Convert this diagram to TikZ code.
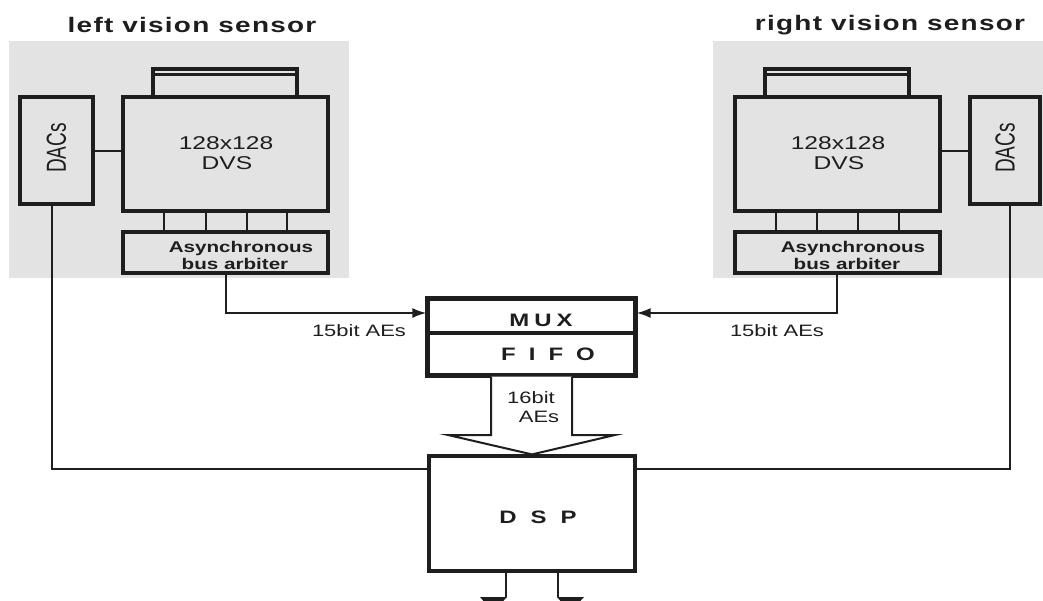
\documentclass[tikz,border=0pt]{standalone}
\usepackage{fontspec}
\usetikzlibrary{arrows.meta}
\newfontfamily\wsans[FakeStretch=1.33]{Liberation Sans}
\newfontfamily\psans{Liberation Sans}
\newfontfamily\tsans[FakeStretch=1.33,LetterSpace=6]{Liberation Sans}
\definecolor{panel}{HTML}{E3E3E3}
\definecolor{ink}{HTML}{1E1E1E}
\tikzset{
  box/.style={draw=ink, line width=3.2pt, inner sep=0pt, fill=#1},
  box/.default=panel,
  conn/.style={draw=ink, line width=2pt},
  tip/.style={-{Latex[length=14pt,width=10pt]}},
  lbl/.style={inner sep=0pt, text=ink},
}
\begin{document}
\begin{tikzpicture}[x=1pt,y=-1pt]
\path[use as bounding box, fill=white] (0,0) rectangle (1043,600);
\clip (0,0) rectangle (1043,600);
% panels
\path[fill=panel] (9,41) rectangle (349,278);
\path[fill=panel] (713,41) rectangle (1043,278);
% titles
\node[lbl, font=\tsans\bfseries\fontsize{21}{24}\selectfont] (titleL) at (192,25) {left vision sensor};
\node[lbl, font=\tsans\bfseries\fontsize{21}{24}\selectfont] (titleR) at (890,25) {right vision sensor};
% left sensor
\node[box, minimum width=144pt, minimum height=28pt] (lensL) at (225,83) {};
\node[box, minimum width=205pt, minimum height=114pt] (dvsL) at (225.5,154) {};
\draw[ink, line width=2.2pt] ([yshift=-7pt]lensL.north west) -- ([yshift=-7pt]lensL.north east);
\node[box, minimum width=73pt, minimum height=107pt] (dacsL) at (56.5,150.5) {};
\node[box, minimum width=205pt, minimum height=41pt] (arbL) at (225.5,252.5) {};
\node[lbl, rotate=90] (dacsLt) at (56.5,148) {\scalebox{1}[1.45]{\psans\fontsize{19}{22}\selectfont DACs}};
\node[lbl, font=\wsans\fontsize{18.5}{20}\selectfont] (dvsLa) at (226,143.5) {128x128};
\node[lbl, font=\wsans\fontsize{18.5}{20}\selectfont] (dvsLb) at (227,163) {DVS};
\node[lbl, font=\wsans\bfseries\fontsize{15.5}{18}\selectfont] (arbLa) at (241,248) {Asynchronous};
\node[lbl, font=\wsans\bfseries\fontsize{15.5}{18}\selectfont] (arbLb) at (235,264) {bus arbiter};
\draw[conn] (dacsL.east |- 0,151) -- (dvsL.west |- 0,151);
\foreach \x in {164,206,247,287} \draw[conn, line width=2.4pt] (\x,211) -- (\x,232);
% right sensor
\node[box, minimum width=144pt, minimum height=28pt] (lensR) at (837,83) {};
\node[box, minimum width=205pt, minimum height=114pt] (dvsR) at (837.5,154) {};
\draw[ink, line width=2.2pt] ([yshift=-7pt]lensR.north west) -- ([yshift=-7pt]lensR.north east);
\node[box, minimum width=70pt, minimum height=107pt] (dacsR) at (1005,150.5) {};
\node[box, minimum width=205pt, minimum height=41pt] (arbR) at (837.5,252.5) {};
\node[lbl, rotate=90] (dacsRt) at (1005,148) {\scalebox{1}[1.45]{\psans\fontsize{19}{22}\selectfont DACs}};
\node[lbl, font=\wsans\fontsize{18.5}{20}\selectfont] (dvsRa) at (838,143.5) {128x128};
\node[lbl, font=\wsans\fontsize{18.5}{20}\selectfont] (dvsRb) at (839,163) {DVS};
\node[lbl, font=\wsans\bfseries\fontsize{15.5}{18}\selectfont] (arbRa) at (853,248) {Asynchronous};
\node[lbl, font=\wsans\bfseries\fontsize{15.5}{18}\selectfont] (arbRb) at (847,264) {bus arbiter};
\draw[conn] (dvsR.east |- 0,151) -- (dacsR.west |- 0,151);
\foreach \x in {776,817,858,899} \draw[conn, line width=2.4pt] (\x,211) -- (\x,232);
% mux / fifo
\node[box=white, minimum width=207pt, minimum height=34pt] (mux) at (531.5,316) {};
\node[box=white, minimum width=207pt, minimum height=42pt] (fifo) at (531.5,354) {};
\draw[ink, line width=3.2pt] (mux.north west) rectangle (fifo.south east);
\node[lbl, font=\wsans\bfseries\fontsize{18}{20}\selectfont] (muxt) at (541,320) {M\hspace{5pt}U\hspace{5pt}X};
\node[lbl, font=\wsans\bfseries\fontsize{18}{20}\selectfont] (fifot) at (548,354) {F\hspace{13pt}I\hspace{13pt}F\hspace{13pt}O};
% connectors to mux
\draw[conn, tip] (arbL.south -| 226,0) |- ([yshift=3pt]mux.west);
\draw[conn, tip] (arbR.south -| 837,0) |- ([yshift=3pt]mux.east);
\node[lbl, font=\wsans\fontsize{16.5}{19}\selectfont] (l15L) at (359,331) {15bit AEs};
\node[lbl, font=\wsans\fontsize{16.5}{19}\selectfont] (l15R) at (777,331) {15bit AEs};
% dsp
\node[box=white, minimum width=206pt, minimum height=115pt] (dsp) at (532,513.5) {};
\node[lbl, font=\wsans\bfseries\fontsize{18}{20}\selectfont] (dspt) at (538,517) {D\hspace{14pt}S\hspace{14pt}P};
% big arrow
\draw[ink, fill=white, line width=2pt, line join=miter]
  ([xshift=-40.5pt]fifo.south) -- (491,435) -- (448,435) -- (dsp.north) -- (615,435) -- (572,435) -- ([xshift=40.5pt]fifo.south);
\node[lbl, font=\wsans\fontsize{16.5}{19}\selectfont] (l16a) at (531,398) {16bit};
\node[lbl, font=\wsans\fontsize{16.5}{19}\selectfont] (l16b) at (539,417) {AEs};
% dac lines
\draw[conn] (dacsL.south -| 52,0) |- ([yshift=44.5pt]dsp.west);
\draw[conn] (dacsR.south -| 1010,0) |- ([yshift=44.5pt]dsp.east);
% outputs
\coordinate (outL) at (506,597);
\coordinate (outR) at (558,597);
\draw[conn, line width=2.4pt] ([xshift=-26pt]dsp.south) -- (outL);
\draw[conn, line width=2.4pt] ([xshift=26pt]dsp.south) -- (outR);
\fill[ink] (480,597) -- (507,597) -- (493,612) -- cycle;
\fill[ink] (557,597) -- (584,597) -- (570,612) -- cycle;
\end{tikzpicture}
\end{document}
